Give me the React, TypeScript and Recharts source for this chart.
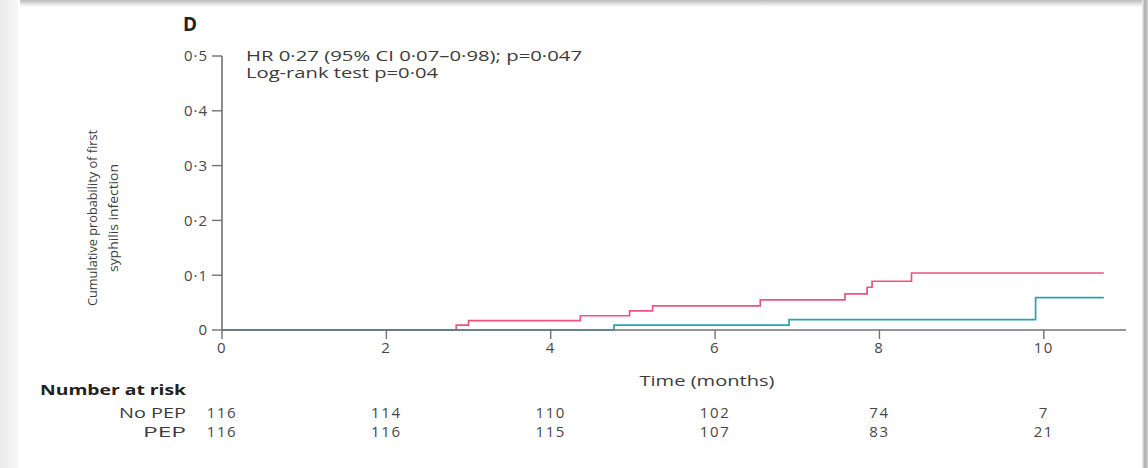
import React from 'react';
import { LineChart, Line, XAxis, YAxis } from 'recharts';

// Kaplan-Meier style cumulative incidence, panel D
const timeTicks = [0, 2, 4, 6, 8, 10];
const probTicks = [0, 0.1, 0.2, 0.3, 0.4, 0.5];
const noPepAtRisk = [116, 114, 110, 102, 74, 7];
const pepAtRisk = [116, 116, 115, 107, 83, 21];

const noPepTimes = [0, 2.85, 3.0, 4.36, 4.96, 5.24, 6.55, 7.58, 7.85, 7.91, 8.39, 10.73];
const noPepProb = [0, 0.009, 0.017, 0.026, 0.035, 0.044, 0.055, 0.066, 0.078, 0.089, 0.104, 0.104];
const pepTimes = [0, 4.77, 6.9, 9.9, 10.73];
const pepProb = [0, 0.009, 0.019, 0.059, 0.059];

const noPep = noPepTimes.map((t, i) => ({ t, p: noPepProb[i] }));
const pep = pepTimes.map((t, i) => ({ t, p: pepProb[i] }));

const W = 1148;
const H = 468;
const FONT = '"Open Sans", "DejaVu Sans", sans-serif';
const AXIS = '#727272';
const TEXT = '#3c3c3c';
const NO_PEP_COLOR = '#ea5680';
const PEP_COLOR = '#2aa3ae';

const fmtProb = (v: number) => (v === 0 ? '0' : v.toFixed(1).replace('.', '\u00b7'));

// x tick renders the time label plus the number-at-risk rows under it
const TimeTick = (props: any) => {
  const { x, y, payload } = props;
  const i = timeTicks.indexOf(payload.value);
  return (
    <g fontFamily={FONT} fontSize={15} fill="#474747" textAnchor="middle" letterSpacing={1.6}>
      <text x={x} y={y + 12}>{payload.value}</text>
      <text x={x} y={y + 77}>{noPepAtRisk[i]}</text>
      <text x={x} y={y + 96}>{pepAtRisk[i]}</text>
    </g>
  );
};

export default function App() {
  return (
    <div
      style={{
        position: 'absolute',
        top: 0,
        left: 0,
        width: W,
        height: H,
        background: '#fff',
        overflow: 'hidden',
      }}
    >
      {/* page frame */}
      <div
        style={{
          position: 'absolute',
          top: 0,
          left: 0,
          width: W,
          height: 7,
          background: 'linear-gradient(#bdbdbd, #ebebeb 70%, #ffffff)',
        }}
      />
      <div
        style={{
          position: 'absolute',
          top: 0,
          left: 0,
          width: 20,
          height: H,
          background: 'linear-gradient(90deg, #eaeaea, #f5f5f5 80%, #ffffff)',
        }}
      />
      <div
        style={{
          position: 'absolute',
          top: 0,
          left: W - 6,
          width: 6,
          height: H,
          background: 'linear-gradient(90deg, #f4f4f4, #a8a8a8 50%, #d8d8d8)',
        }}
      />

      <div style={{ position: 'absolute', top: 0, left: 0 }}>
        <LineChart width={W} height={H} margin={{ top: 56, right: 22, bottom: 108, left: 182 }}>
          <XAxis
            type="number"
            dataKey="t"
            domain={[0, 11]}
            ticks={timeTicks}
            allowDataOverflow
            height={30}
            tickSize={9}
            tickMargin={2}
            axisLine={{ stroke: AXIS, strokeWidth: 1.6 }}
            tickLine={{ stroke: AXIS, strokeWidth: 1.4 }}
            tick={<TimeTick />}
            interval={0}
          />
          <YAxis
            type="number"
            domain={[0, 0.5]}
            ticks={probTicks}
            width={40}
            tickSize={10}
            tickMargin={4}
            tickFormatter={fmtProb}
            axisLine={{ stroke: AXIS, strokeWidth: 1.6 }}
            tickLine={{ stroke: AXIS, strokeWidth: 1.4 }}
            tick={{ fontSize: 15, fill: '#474747', fontFamily: FONT, letterSpacing: 1 }}
            interval={0}
          />
          <Line
            data={noPep}
            dataKey="p"
            type="stepAfter"
            stroke={NO_PEP_COLOR}
            strokeWidth={1.7}
            dot={false}
            isAnimationActive={false}
          />
          <Line
            data={pep}
            dataKey="p"
            type="stepAfter"
            stroke={PEP_COLOR}
            strokeWidth={1.7}
            dot={false}
            isAnimationActive={false}
          />
        </LineChart>
      </div>

      {/* titles, annotation and labels */}
      <svg
        width={W}
        height={H}
        style={{ position: 'absolute', top: 0, left: 0, pointerEvents: 'none' }}
        fontFamily={FONT}
      >
        <text x={183} y={31} fontSize={19} fontWeight={700} fill="#222">D</text>
        <text x={246} y={61} fontSize={14.5} fill={TEXT} textLength={336} lengthAdjust="spacingAndGlyphs">
          HR 0·27 (95% CI 0·07–0·98); p=0·047
        </text>
        <text x={246} y={78} fontSize={14.5} fill={TEXT} textLength={192} lengthAdjust="spacingAndGlyphs">
          Log-rank test p=0·04
        </text>
        <g transform="translate(97 218) rotate(-90)" textAnchor="middle" fontSize={13.5} fill={TEXT}>
          <text x={0} y={0} textLength={176} lengthAdjust="spacingAndGlyphs">
            Cumulative probability of first
          </text>
          <text x={0} y={21} textLength={108} lengthAdjust="spacingAndGlyphs">
            syphilis infection
          </text>
        </g>
        <text x={707} y={386} fontSize={15} fill={TEXT} textAnchor="middle" textLength={135} lengthAdjust="spacingAndGlyphs">
          Time (months)
        </text>
        <text x={40} y={395} fontSize={15} fontWeight={700} fill="#222" textLength={146} lengthAdjust="spacingAndGlyphs">
          Number at risk
        </text>
        <text x={186} y={418} fontSize={15} fill={TEXT} textAnchor="end" textLength={67} lengthAdjust="spacingAndGlyphs">
          No PEP
        </text>
        <text x={186} y={437} fontSize={15} fill={TEXT} textAnchor="end" textLength={43} lengthAdjust="spacingAndGlyphs">
          PEP
        </text>
      </svg>
    </div>
  );
}
